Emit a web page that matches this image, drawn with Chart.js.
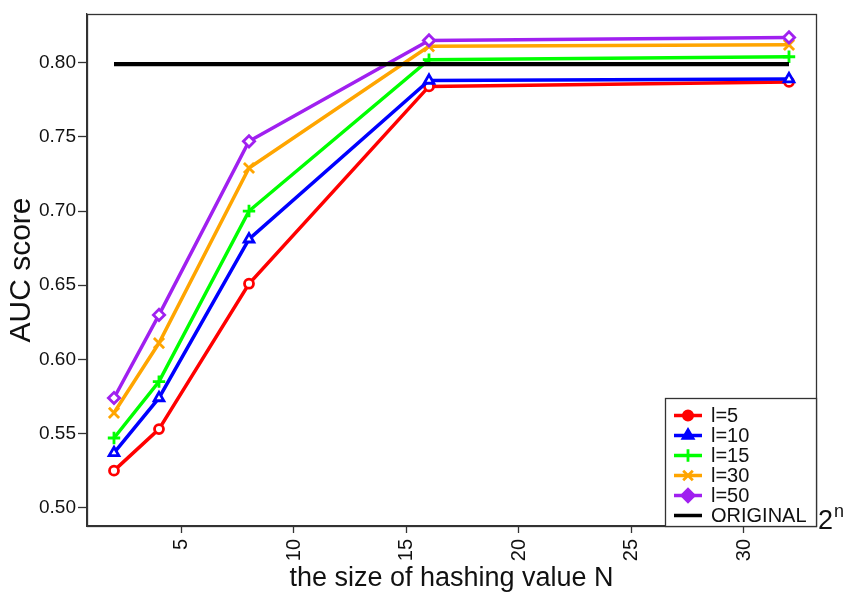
<!DOCTYPE html>
<html><head><meta charset="utf-8">
<script src="https://cdn.jsdelivr.net/npm/chart.js@4"></script>
<style>html,body{margin:0;padding:0;background:#fff}#wrap{width:843px;height:596px;position:relative}</style>
</head><body><div id="wrap"><canvas id="c" width="843" height="596"></canvas></div>
<script>
// ---- data ----
const xValues = [2, 4, 8, 16, 32];
const seriesLabels = ['l=5', 'l=10', 'l=15', 'l=30', 'l=50'];
const l5  = [0.525, 0.553, 0.651, 0.784, 0.787];
const l10 = [0.537, 0.574, 0.681, 0.788, 0.789];
const l15 = [0.547, 0.585, 0.700, 0.802, 0.804];
const l30 = [0.564, 0.611, 0.729, 0.811, 0.812];
const l50 = [0.574, 0.630, 0.747, 0.815, 0.817];
const originalLabel = 'ORIGINAL';
const originalX = [2, 32];
const originalY = [0.799, 0.799];
const xTicks = [5, 10, 15, 20, 25, 30];
const xTickLabels = ['5', '10', '15', '20', '25', '30'];
const yTicks = [0.50, 0.55, 0.60, 0.65, 0.70, 0.75, 0.80];
const yTickLabels = ['0.50', '0.55', '0.60', '0.65', '0.70', '0.75', '0.80'];
const xAxisTitle = 'the size of hashing value N';
const yAxisTitle = 'AUC score';
const sideNoteBase = '2';
const sideNoteSup = 'n';

// ---- styles ----
const FONT = '"Liberation Sans", Arial, Helvetica, sans-serif';
const seriesValues = [l5, l10, l15, l30, l50];
const seriesStyles = [
  {color: '#FF0000', pointStyle: 'circle',   radius: 4.5, legendRadius: 4.6},
  {color: '#0000FF', pointStyle: 'triangle', radius: 5.6, legendRadius: 5.8},
  {color: '#00FF00', pointStyle: 'cross',    radius: 6.2, legendRadius: 6.2},
  {color: '#FFA500', pointStyle: 'crossRot', radius: 7.2, legendRadius: 6.8},
  {color: '#A020F0', pointStyle: 'rectRot',  radius: 5.6, legendRadius: 6.2}
];

const datasets = seriesValues.map((vals, i) => ({
  label: seriesLabels[i],
  data: xValues.map((x, j) => ({x: x, y: vals[j]})),
  borderColor: seriesStyles[i].color,
  backgroundColor: seriesStyles[i].color,
  pointBackgroundColor: '#ffffff',
  pointBorderColor: seriesStyles[i].color,
  pointStyle: seriesStyles[i].pointStyle,
  pointRadius: seriesStyles[i].radius,
  legendRadius: seriesStyles[i].legendRadius,
  pointBorderWidth: 2.8,
  borderWidth: 3.5,
  tension: 0,
  order: 5 - i
}));
datasets.push({
  label: originalLabel,
  data: originalX.map((x, j) => ({x: x, y: originalY[j]})),
  borderColor: '#000000',
  backgroundColor: '#000000',
  borderWidth: 4.4,
  pointRadius: 0,
  tension: 0,
  order: 0
});

const decorPlugin = {
  id: 'decor',
  afterDraw(chart) {
    const ctx = chart.ctx;
    const a = chart.chartArea;
    ctx.save();
    // plot frame
    ctx.strokeStyle = '#333';
    ctx.lineWidth = 1.3;
    ctx.strokeRect(a.left + 0.5, a.top + 0.5, a.right - a.left, a.bottom - a.top);
    // legend
    const bw = 151, bh = 128;
    const bx = a.right - bw, by = a.bottom - bh;
    ctx.fillStyle = '#fff';
    ctx.fillRect(bx, by, bw, bh);
    ctx.strokeRect(bx + 0.5, by + 0.5, bw, bh);
    chart.data.datasets.forEach((ds, i) => {
      const y = by + 17.5 + i * 20;
      ctx.strokeStyle = ds.borderColor;
      ctx.lineWidth = 3.5;
      ctx.beginPath();
      ctx.moveTo(bx + 9, y);
      ctx.lineTo(bx + 37, y);
      ctx.stroke();
      if (ds.pointRadius > 0) {
        ctx.fillStyle = ds.borderColor;
        ctx.strokeStyle = ds.borderColor;
        ctx.lineWidth = 2.8;
        Chart.helpers.drawPoint(ctx, {pointStyle: ds.pointStyle, rotation: 0, radius: ds.legendRadius, borderWidth: 2.8}, bx + 23, y);
      }
      ctx.fillStyle = '#111';
      ctx.font = '20px ' + FONT;
      ctx.textAlign = 'left';
      ctx.textBaseline = 'middle';
      ctx.fillText(ds.label, bx + 46, y + 1);
    });
    // 2^n note
    ctx.fillStyle = '#111';
    ctx.textBaseline = 'alphabetic';
    ctx.font = '27px ' + FONT;
    ctx.fillText(sideNoteBase, a.right + 2, a.bottom + 3);
    ctx.font = '18px ' + FONT;
    ctx.fillText(sideNoteSup, a.right + 18, a.bottom - 9);
    ctx.restore();
  }
};

new Chart(document.getElementById('c'), {
  type: 'line',
  data: {datasets: datasets},
  options: {
    responsive: false,
    animation: false,
    devicePixelRatio: 1,
    layout: {padding: {top: 14, right: 27, left: 0, bottom: 0}},
    plugins: {legend: {display: false}, tooltip: {enabled: false}},
    scales: {
      x: {
        type: 'linear',
        min: 0.8, max: 33.2,
        afterBuildTicks: s => { s.ticks = xTicks.map(v => ({value: v})); },
        afterFit: s => { s.height = 70; },
        grid: {drawOnChartArea: false, drawTicks: true, tickLength: 7, tickColor: '#333', tickWidth: 1.3},
        border: {display: true, color: '#333', width: 1.3},
        ticks: {
          autoSkip: false, minRotation: 90, maxRotation: 90, padding: 6,
          color: '#111', font: {family: FONT, size: 20},
          callback: (v, i) => xTickLabels[i]
        },
        title: {display: true, text: xAxisTitle, color: '#111', font: {family: FONT, size: 27}, padding: {top: 0, bottom: 1}}
      },
      y: {
        type: 'linear',
        min: 0.4877, max: 0.8328,
        afterBuildTicks: s => { s.ticks = yTicks.map(v => ({value: v})); },
        afterFit: s => { s.width = 87; },
        grid: {drawOnChartArea: false, drawTicks: true, tickLength: 9, tickColor: '#333', tickWidth: 1.3},
        border: {display: true, color: '#333', width: 1.3},
        ticks: {
          padding: 2, color: '#111', font: {family: FONT, size: 19},
          callback: (v, i) => yTickLabels[i]
        },
        title: {display: true, text: yAxisTitle, color: '#111', font: {family: FONT, size: 30}, padding: {top: 4, bottom: 0}}
      }
    }
  },
  plugins: [decorPlugin]
});
</script>
</body></html>
